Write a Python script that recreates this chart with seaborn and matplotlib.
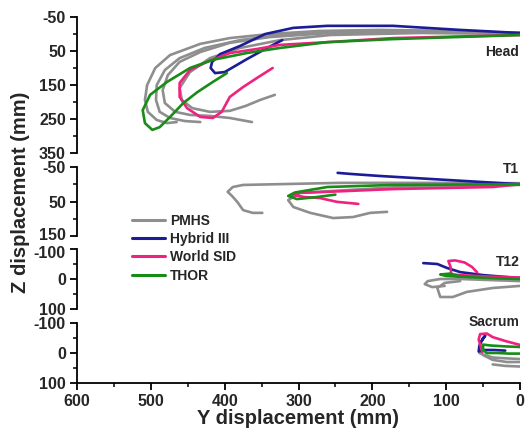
import matplotlib
matplotlib.use("Agg")
import matplotlib.pyplot as plt
import seaborn as sns
from matplotlib.lines import Line2D
from matplotlib.ticker import MultipleLocator

sns.set_style("ticks")
plt.rcParams['font.family'] = ['Liberation Sans', 'DejaVu Sans']
plt.rcParams['font.weight'] = 'bold'
plt.rcParams['axes.labelweight'] = 'bold'
plt.rcParams['axes.unicode_minus'] = False

SERIES = ["PMHS", "Hybrid III", "World SID", "THOR"]
COLORS = {"PMHS": "#8e8e8e", "Hybrid III": "#1c1c96",
          "World SID": "#f0227f", "THOR": "#178c17"}
PANEL_NAMES = ["Head", "T1", "T12", "Sacrum"]
X_TICKS = [600, 500, 400, 300, 200, 100, 0]

# ---------------- Head (Y, Z in mm) ----------------
HEAD_PMHS1_Y = [0, 95, 190, 271, 339, 393, 433, 474, 494, 505, 508, 504, 492, 478, 465]
HEAD_PMHS1_Z = [-3, -9, -12, -9, 0, 12, 29, 62, 100, 150, 194, 229, 253, 262, 259]
HEAD_PMHS2_Y = [0, 135, 257, 339, 393, 433, 461, 477, 484, 481, 467, 447, 420, 393, 363]
HEAD_PMHS2_Z = [-3, -6, -3, 9, 26, 53, 82, 121, 165, 203, 229, 238, 241, 247, 259]
HEAD_PMHS3_Y = [0, 135, 257, 325, 379, 420, 447, 461, 458, 444, 420, 393, 372, 352, 332]
HEAD_PMHS3_Z = [0, -3, 3, 18, 41, 71, 112, 159, 194, 218, 229, 226, 212, 194, 179]
HEAD_PMHS4_Y = [0, 122, 244, 325, 379, 427, 461, 481, 492, 493, 488, 474, 454, 433]
HEAD_PMHS4_Z = [-3, -9, -6, 3, 18, 41, 71, 106, 150, 194, 229, 247, 256, 259]
HEAD_HYB_Y = [0, 81, 172, 261, 307, 345, 379, 406, 417, 419, 413, 400, 370, 345, 322]
HEAD_HYB_Z = [-3, -12, -24, -24, -18, 0, 35, 59, 82, 100, 115, 112, 74, 44, 18]
HEAD_WSID_Y = [0, 172, 261, 325, 356, 393, 424, 447, 461, 461, 451, 433, 416, 404, 393, 375, 356, 335]
HEAD_WSID_Z = [3, 12, 24, 32, 44, 56, 82, 106, 144, 185, 218, 244, 247, 229, 185, 156, 129, 100]
HEAD_THOR_Y = [0, 172, 261, 325, 370, 416, 447, 478, 501, 511, 508, 498, 488, 474, 456, 437, 416, 397]
HEAD_THOR_Z = [3, 15, 24, 41, 56, 76, 100, 141, 179, 224, 262, 282, 274, 244, 203, 171, 141, 115]

# ---------------- T1 ----------------
T1_PMHS1_Y = [0, 120, 244, 375, 389, 396, 390, 383, 375, 362, 349]
T1_PMHS1_Z = [-3, -4, -4, 2, 8, 22, 34, 51, 75, 83, 83]
T1_PMHS2_Y = [0, 163, 298, 314, 307, 284, 253, 226, 203, 180]
T1_PMHS2_Z = [2, 8, 25, 46, 66, 83, 98, 95, 83, 80]
T1_HYB_Y = [0, 95, 190, 230, 247]
T1_HYB_Z = [0, -12, -24, -30, -33]
T1_WSID_Y = [0, 37, 172, 261, 298, 308, 292, 271, 248, 219]
T1_WSID_Z = [0, 8, 14, 22, 25, 31, 37, 40, 51, 57]
T1_THOR_Y = [0, 172, 261, 305, 314, 302, 275, 250]
T1_THOR_Z = [0, 2, 8, 24, 34, 43, 37, 30]

# ---------------- T12 ----------------
T12_PMHS1_Y = [0, 81, 108, 125, 129, 119, 102]
T12_PMHS1_Z = [7, 0, 0, 7, 17, 27, 23]
T12_PMHS2_Y = [0, 37, 72, 91, 108, 112, 102, 81]
T12_PMHS2_Z = [23, 30, 43, 60, 60, 30, 13, 7]
T12_HYB_Y = [0, 50, 81, 99, 112, 131]
T12_HYB_Z = [-3, -13, -23, -37, -50, -53]
T12_WSID_Y = [0, 40, 75, 93, 94, 97, 88, 75, 65, 58]
T12_WSID_Z = [-5, -8, -12, -15, -40, -60, -62, -55, -40, -22]
T12_THOR_Y = [0, 30, 60, 80, 95, 108, 100, 85, 70]
T12_THOR_Z = [0, -2, -5, -8, -18, -15, -10, -8, -8]

# ---------------- Sacrum ----------------
SAC_PMHS1_Y = [0, 18, 37, 50, 55]
SAC_PMHS1_Z = [20, 18, 15, 5, 0]
SAC_PMHS2_Y = [0, 18, 37, 50]
SAC_PMHS2_Z = [30, 30, 23, 7]
SAC_PMHS3_Y = [0, 20, 37]
SAC_PMHS3_Z = [45, 43, 38]
SAC_HYB_Y = [20, 35, 48, 56, 55, 50, 47, 52]
SAC_HYB_Z = [-8, -10, -10, -5, -25, -50, -58, -40]
SAC_WSID_Y = [0, 20, 37, 45, 54, 56, 53, 51]
SAC_WSID_Z = [-27, -40, -53, -65, -63, -45, -20, -3]
SAC_THOR_Y = [0, 20, 40, 50, 50, 45, 30, 15, 0]
SAC_THOR_Z = [-20, -22, -25, -28, -10, 0, 0, 2, 2]

TRACES = [
    [("PMHS", HEAD_PMHS1_Y, HEAD_PMHS1_Z), ("PMHS", HEAD_PMHS2_Y, HEAD_PMHS2_Z),
     ("PMHS", HEAD_PMHS3_Y, HEAD_PMHS3_Z), ("PMHS", HEAD_PMHS4_Y, HEAD_PMHS4_Z),
     ("Hybrid III", HEAD_HYB_Y, HEAD_HYB_Z), ("World SID", HEAD_WSID_Y, HEAD_WSID_Z),
     ("THOR", HEAD_THOR_Y, HEAD_THOR_Z)],
    [("PMHS", T1_PMHS1_Y, T1_PMHS1_Z), ("PMHS", T1_PMHS2_Y, T1_PMHS2_Z),
     ("Hybrid III", T1_HYB_Y, T1_HYB_Z), ("World SID", T1_WSID_Y, T1_WSID_Z),
     ("THOR", T1_THOR_Y, T1_THOR_Z)],
    [("PMHS", T12_PMHS1_Y, T12_PMHS1_Z), ("PMHS", T12_PMHS2_Y, T12_PMHS2_Z),
     ("Hybrid III", T12_HYB_Y, T12_HYB_Z), ("World SID", T12_WSID_Y, T12_WSID_Z),
     ("THOR", T12_THOR_Y, T12_THOR_Z)],
    [("PMHS", SAC_PMHS1_Y, SAC_PMHS1_Z), ("PMHS", SAC_PMHS2_Y, SAC_PMHS2_Z),
     ("PMHS", SAC_PMHS3_Y, SAC_PMHS3_Z),
     ("Hybrid III", SAC_HYB_Y, SAC_HYB_Z), ("World SID", SAC_WSID_Y, SAC_WSID_Z),
     ("THOR", SAC_THOR_Y, SAC_THOR_Z)],
]

Y_LIMS = [(-50, 350), (-50, 150), (-100, 100), (-100, 100)]
Y_TICKS = [[-50, 50, 150, 250, 350], [-50, 50, 150], [-100, 0, 100], [-100, 0, 100]]
LABEL_POS = [(1, 53), (1, -45), (1, -57), (1, -103)]
# vertical nudge (pixels) of crowded tick labels: (panel, tick value) -> offset
NUDGE = {(1, 150): 2.5, (2, -100): -2.5}

W, H = 525, 433
fig = plt.figure(figsize=(W / 100, H / 100), dpi=100)
left = 77 / W
width = 443 / W
rows_px = [(17, 153), (167, 236), (249, 309), (323, 383)]

for i, (top, bot) in enumerate(rows_px):
    ax = fig.add_axes([left, 1 - bot / H, width, (bot - top) / H])
    for series, ys, zs in TRACES[i]:
        sns.lineplot(x=ys, y=zs, sort=False, estimator=None, color=COLORS[series],
                     lw=1.9, ax=ax, legend=False)
    for ln in ax.get_lines():
        ln.set_solid_joinstyle("round")
        ln.set_solid_capstyle("round")
    lo, hi = Y_LIMS[i]
    ax.set_xlim(600, 0)
    ax.set_ylim(hi, lo)
    ticks = Y_TICKS[i]
    ax.set_yticks(ticks)
    labels = ["" if (i, t) in NUDGE else str(t) for t in ticks]
    ax.set_yticklabels(labels)
    for t in ticks:
        if (i, t) in NUDGE:
            ax.annotate(str(t), xy=(0, t), xycoords=("axes fraction", "data"),
                        xytext=(-11.2, NUDGE[(i, t)]), textcoords="offset pixels",
                        ha="right", va="center_baseline", fontsize=11.5,
                        fontweight="bold", annotation_clip=False)
    ax.yaxis.set_minor_locator(MultipleLocator(50))
    ax.set_xticks(X_TICKS)
    ax.xaxis.set_minor_locator(MultipleLocator(50))
    ax.set_xlabel("")
    ax.set_ylabel("")
    for s in ["top", "right"]:
        ax.spines[s].set_visible(False)
    for s in ["left", "bottom"]:
        ax.spines[s].set_color("black")
        ax.spines[s].set_linewidth(1.3)
    ax.tick_params(axis="both", which="major", direction="out", length=5, width=1.3,
                   labelsize=11.5, color="black", pad=3)
    ax.tick_params(axis="both", which="minor", direction="out", length=3, width=1.1,
                   color="black")
    for lab in ax.get_yticklabels() + ax.get_xticklabels():
        lab.set_fontweight("bold")
    if i < 3:
        ax.spines["bottom"].set_visible(False)
        ax.tick_params(axis="x", which="both", bottom=False, labelbottom=False)
    ax.set_facecolor("none")
    tx, tz = LABEL_POS[i]
    ax.text(tx, tz, PANEL_NAMES[i], ha="right", va="center", fontsize=10,
            fontweight="bold", clip_on=False)

handles = [Line2D([0], [0], color=COLORS[s], lw=2.2) for s in SERIES]
fig.legend(handles, SERIES, loc="upper left", bbox_to_anchor=(132 / W, 1 - 214 / H),
           frameon=False, borderpad=0, borderaxespad=0, handlelength=2.4,
           handletextpad=0.35, labelspacing=0.3, prop={"weight": "bold", "size": 10})

fig.text(20 / W, 1 - 192 / H, "Z displacement (mm)", rotation=90, ha="center",
         va="center", fontsize=14.5, fontweight="bold")
fig.text(298 / W, 1 - 419 / H, "Y displacement (mm)", ha="center", va="center",
         fontsize=14.5, fontweight="bold")

fig.savefig("out.png", dpi=100)
